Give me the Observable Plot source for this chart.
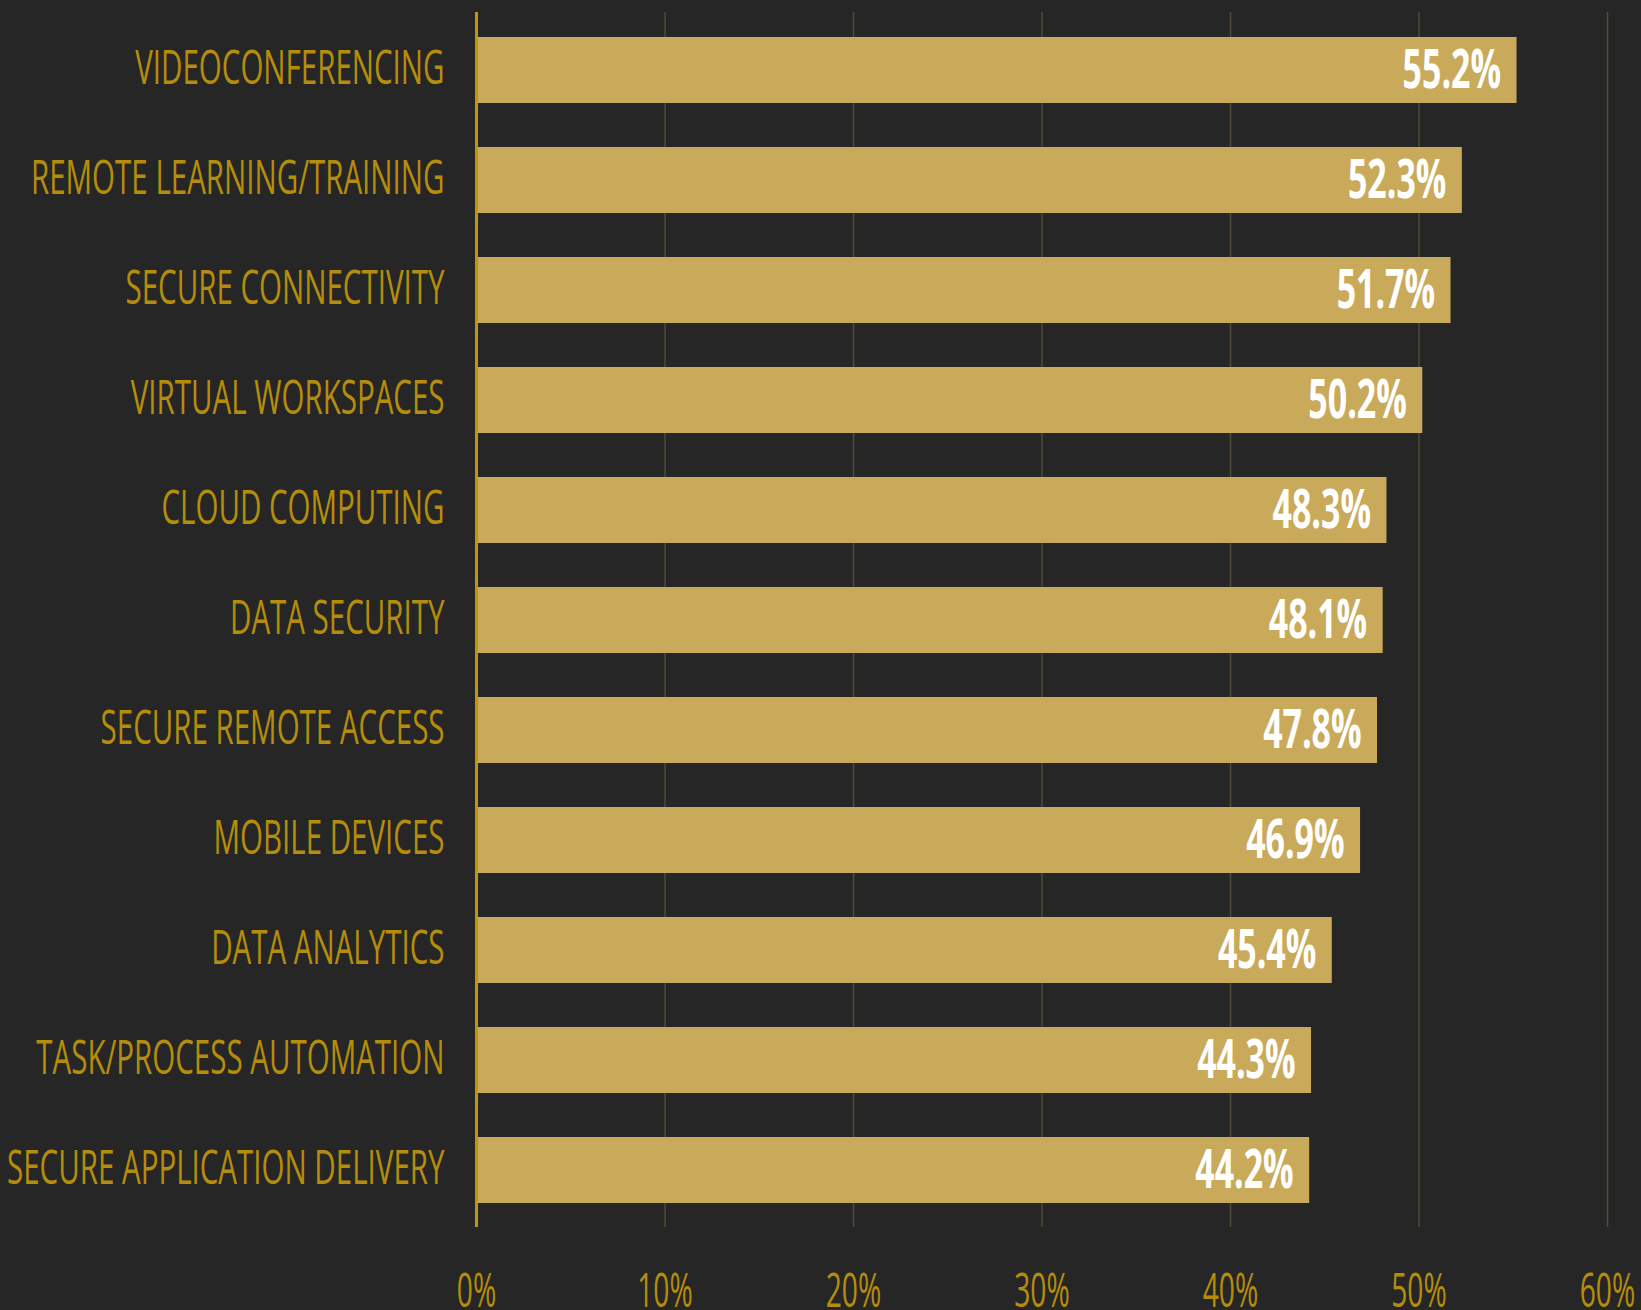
<!DOCTYPE html>
<html>
<head>
<meta charset="utf-8">
<script src="https://cdn.jsdelivr.net/npm/d3@7"></script>
<script src="https://cdn.jsdelivr.net/npm/@observablehq/plot@0.6"></script>
<style>
  html, body { margin: 0; padding: 0; background: #262626; }
  #chart svg { display: block; background: #262626; }
</style>
</head>
<body>
<div id="chart"></div>
<script>
const categories = [
  "VIDEOCONFERENCING",
  "REMOTE LEARNING/TRAINING",
  "SECURE CONNECTIVITY",
  "VIRTUAL WORKSPACES",
  "CLOUD COMPUTING",
  "DATA SECURITY",
  "SECURE REMOTE ACCESS",
  "MOBILE DEVICES",
  "DATA ANALYTICS",
  "TASK/PROCESS AUTOMATION",
  "SECURE APPLICATION DELIVERY"
];
const values = [55.2, 52.3, 51.7, 50.2, 48.3, 48.1, 47.8, 46.9, 45.4, 44.3, 44.2];
const xTicks = [0, 10, 20, 30, 40, 50, 60];

const data = categories.map((c, i) => ({category: c, value: values[i]}));

const gold = "#b58d0d";
const barFill = "#c9aa5b";

const chart = Plot.plot({
  width: 1641,
  height: 1310,
  marginLeft: 476,
  marginRight: 34,
  marginTop: 12,
  marginBottom: 83,
  style: {background: "#262626", fontFamily: "'Open Sans', sans-serif"},
  x: {domain: [0, 60], ticks: xTicks},
  y: {domain: categories, paddingInner: 0.4, paddingOuter: 0.18},
  marks: [
    Plot.gridX(xTicks.slice(1), {stroke: "#514b36", strokeOpacity: 1, strokeWidth: 1.5}),
    Plot.barX(data, {x: "value", y: "category", fill: barFill}),
    Plot.ruleX([0], {stroke: "#c0960a", strokeWidth: 3}),
    Plot.text(data, {
      x: "value", y: "category",
      text: d => d.value.toFixed(1) + "%",
      textAnchor: "end", dx: -16, dy: 1,
      fill: "#ffffff", fontSize: 53, fontWeight: "bold"
    }),
    Plot.axisY({
      tickSize: 0, tickPadding: 32, label: null, dy: -2,
      fontSize: 48, fontWeight: 400, fill: gold, color: gold
    }),
    Plot.axisX({
      ticks: xTicks, tickSize: 0, tickPadding: 46, label: null,
      tickFormat: d => d + "%",
      fontSize: 47, fontWeight: 400, fill: gold, color: gold
    })
  ]
});

// condensed look: compress glyphs horizontally around each text's anchor
const scales = {"y-axis tick label": 0.615, "x-axis tick label": 0.6, "text": 0.64};
chart.querySelectorAll("g[aria-label]").forEach(g => {
  const s = scales[g.getAttribute("aria-label")];
  if (!s) return;
  g.querySelectorAll("text").forEach(t => {
    const tr = t.getAttribute("transform") || "";
    t.setAttribute("transform", tr + ` scale(${s},1)`);
  });
});

document.getElementById("chart").appendChild(chart);
</script>
</body>
</html>
